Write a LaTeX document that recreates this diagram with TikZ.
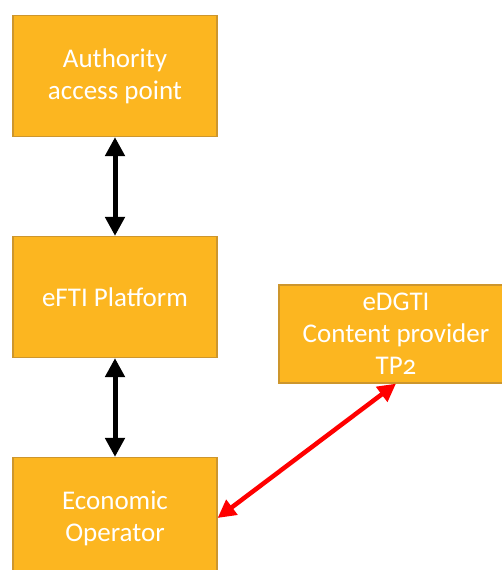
\documentclass[tikz,border=0pt]{standalone}
\usepackage{fontspec}
\setmainfont{Carlito}[Numbers=OldStyle]
\usetikzlibrary{arrows.meta}
\definecolor{boxfill}{RGB}{252,182,32}
\definecolor{boxedge}{RGB}{205,150,45}
\begin{document}
\begin{tikzpicture}[x=1pt,y=-1pt,
  block/.style={draw=boxedge, line width=1.2pt, fill=boxfill, text=white,
    font=\fontsize{27}{32}\selectfont, align=center, inner sep=0pt,
    minimum width=204pt, minimum height=121pt},
  blacklink/.style={line width=5pt, black,
    {Triangle[width=19pt,length=19pt]}-{Triangle[width=19pt,length=19pt]}},
  redlink/.style={line width=4.5pt, red,
    {Triangle[width=18pt,length=18pt]}-{Triangle[width=18pt,length=18pt]}}]
\useasboundingbox (0,0) rectangle (502,570);
\clip (0,0) rectangle (502,570);
\node[block] (auth) at (115,76) {Authority\\access point};
\node[block] (efti) at (115,297) {eFTI Platform};
\node[block] (eco)  at (115,518) {Economic\\Operator};
\node[block, minimum width=234pt, minimum height=98pt] (edgti) at (396,334)
  {eDGTI\\Content provider\\TP2};
\draw[blacklink] (auth.south) -- (efti.north);
\draw[blacklink] (efti.south) -- (eco.north);
\draw[redlink] (edgti.south) -- (eco.east);
\end{tikzpicture}
\end{document}
